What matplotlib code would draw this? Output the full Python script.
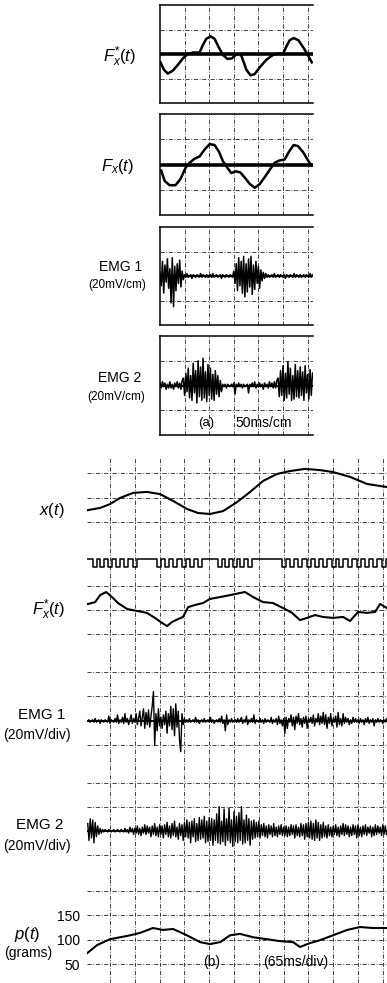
import numpy as np
import matplotlib.pyplot as plt

plt.rcParams['font.family'] = ['Liberation Sans', 'DejaVu Sans']
plt.rcParams['mathtext.fontset'] = 'custom'
plt.rcParams['mathtext.it'] = 'Liberation Sans:italic'
plt.rcParams['mathtext.rm'] = 'Liberation Sans'
plt.rcParams['lines.solid_joinstyle'] = 'round'

W, H = 387, 983

# ---------- (a) 50 ms/cm, time in divisions ----------
ta_fxs = [0.02, 0.16, 0.32, 0.52, 0.73, 0.93, 1.13, 1.34, 1.61, 1.74, 1.88, 2.06, 2.22,
          2.38, 2.56, 2.74, 2.92, 3.10, 3.28, 3.37, 3.51, 3.68, 3.85, 4.05, 4.32, 4.59,
          4.79, 5.0, 5.13, 5.27, 5.44, 5.63, 5.81, 5.99, 6.17]
fxs_a = [-0.34, -0.64, -0.80, -0.68, -0.44, -0.18, 0.0, 0.06, 0.06, 0.36, 0.62, 0.72, 0.62,
         0.29, -0.04, -0.2, -0.18, -0.02, 0.0, -0.24, -0.64, -0.87, -0.82, -0.55, -0.24, -0.04,
         0.02, 0.0, 0.29, 0.56, 0.65, 0.56, 0.29, 0.0, -0.34]

ta_fx = [0.05, 0.19, 0.39, 0.63, 0.83, 1.04, 1.20, 1.41, 1.61, 1.81, 2.02, 2.22, 2.40,
         2.56, 2.74, 2.90, 3.07, 3.26, 3.44, 3.64, 3.85, 4.05, 4.25, 4.46, 4.66, 4.86,
         5.07, 5.24, 5.43, 5.61, 5.81, 6.02, 6.15]
fx_a = [-0.24, -0.65, -0.82, -0.82, -0.58, -0.13, 0.07, 0.23, 0.32, 0.59, 0.81, 0.77, 0.5,
        0.13, -0.13, -0.34, -0.27, -0.31, -0.51, -0.76, -0.92, -0.78, -0.51, -0.21, 0.07, 0.16,
        0.2, 0.5, 0.77, 0.73, 0.5, 0.16, -0.04]

emg_dt = 0.05   # sampling step of the EMG readings, in divisions
emg1_a = [3, -8, 12, -14, 9, -5, 14, -10, 6, -22, 15, -25, 8, -12, 10, -6, 13, -9, 4, -3,
          1, -1, 2, -1, 0, 1, -2, 1, 0, -1, 1, 0, -1, 2, -1, 1, 0, -1, 1, -1,
          0, 1, -1, 2, -1, 0, 1, -1, 0, 1, -2, 1, 0, -1, 1, 0, -1, 1, 0, -1,
          4, -6, 10, -12, 15, -8, 12, -14, 16, -17, 10, -13, 14, -9, 16, -15, 9, -11, 12, -6,
          8, -10, 5, -4, 3, -2, 2, -1,
          1, -1, 0, 1, -1, 2, -1, 0, 1, -1, 1, 0, -1, 1, -2, 1, 0, -1, 1, 0,
          -1, 2, -1, 1, 0, -1, 1, -1, 0, 1, -1, 1, 0, -1, 2, -1, 1]
emg2_a = [2, -2, 3, -1, 2, -3, 1, -2, 3, -2, 1, -3, 2, -1, 3, -2, 2, -3, 4,
          6, -8, 10, -5, 14, -10, 8, -12, 18, -6, 12, -14, 20, -9, 15, -12, 22, -10, 11, -13,
          17, -8, 14, -11, 9, -12, 12, -7, 8, -9, 4, -5,
          1, -1, 1, -2, 1, 0, -1, 1, -1, 2, -7, 1, -1, 2, -1, 1, -2, 1, -1, 0,
          1, -6, 1, -1, 2, -1, 3, -2, 1, -1, 2, -1, 1, -3, 2, -1, 1, -2, 3, -1,
          2, -2, 3, -2, 4,
          6, -9, 12, -8, 16, -12, 10, -10, 19, -7, 14, -12, 8, -11, 17, -9, 12, -10, 15, -8,
          11, -12, 16, -6, 9, -11, 13, -8, 10]

# ---------- (b) 65 ms/div, time in divisions ----------
tb_x = [-0.89, -0.40, 0.0, 0.40, 0.93, 1.49, 2.02, 2.54, 3.10, 3.55, 4.03, 4.56, 5.12,
        5.65, 6.17, 6.73, 7.26, 7.86, 8.47, 8.99, 9.68, 10.36, 11.17]
x_b = [-0.52, -0.43, -0.27, -0.02, 0.19, 0.23, 0.14, -0.14, -0.47, -0.64, -0.68, -0.56, -0.19,
       0.23, 0.68, 0.97, 1.09, 1.18, 1.13, 1.05, 0.85, 0.56, 0.43]

tb_fxs = [-0.89, -0.60, -0.40, -0.16, 0.08, 0.32, 0.69, 1.09, 1.49, 1.81, 2.10, 2.30, 2.50,
          2.74, 2.94, 3.15, 3.43, 3.75, 4.03, 4.44, 4.84, 5.44, 5.77, 6.17, 6.57, 6.98, 7.34,
          7.66, 7.94, 8.27, 8.59, 8.99, 9.40, 9.68, 10.0, 10.36, 10.69, 10.89, 11.17]
fxs_b = [0.25, 0.33, 0.62, 0.75, 0.54, 0.29, 0.04, -0.04, -0.12, -0.33, -0.54, -0.67, -0.5,
         -0.38, -0.29, 0.12, 0.21, 0.29, 0.46, 0.54, 0.62, 0.75, 0.54, 0.33, 0.29, 0.08, -0.12,
         -0.42, -0.33, -0.21, -0.29, -0.33, -0.29, -0.46, -0.08, -0.12, -0.08, 0.25, 0.08]

pulse_t = [-0.69, -0.40, -0.08, 0.24, 0.56, 0.93, 1.90, 2.22, 2.54, 2.90, 3.23, 3.55,
           4.35, 4.64, 4.96, 5.24, 5.56, 6.94, 7.26, 7.58, 7.94, 8.27, 8.59, 8.95, 9.23,
           9.60, 9.96, 10.28, 10.60, 10.97]
pulse_w = 0.16

emg_b_t0 = -0.9
emg1_b = [0, 1, -1, 0, 1, -1, 2, -1, 0, 1, -2, 1, 0, -1, 1, 0, -1, 4, -2, 1,
          0, -1, 2, -1, 5, -2, 1, -1, 3, -2, 6, -1, 2, -3, 1, 5, -2, 2, -1, 6,
          -3, 2, 8, -4, 3, 10, -6, 7, -3, 9, -5, 4, 12, 24, -20, 6, -8, 10, -4, 3,
          -6, 5, -3, 8, -10, 6, -4, 12, -7, 10, -12, 14, -5, 8, -15, -25, 6, -3, 2, -1,
          1, -1, 2, -1, 0, 1, -1, 3, -1, 1, -2, 0, 1, -1, 2, -1, 0, 1, -1, 3,
          -1, 1, -2, 0, 1, -1, 2, -1, 4, -2, 1, -8, 5, -3, 1, -1, 2, -1, 0, 1,
          -1, 2, -1, 1, 3, -2, 1, -1, 4, -3, 1, -1, 2, -1, 5, -2, 1, 0, -1, 2,
          -1, 1, -2, 2, -1, 1, 0, -1, 3, -2, 1, -1, 2, -3, 4, -2, 1, -4, 2, -10,
          3, -6, 2, -1, 5, -4, 3, -7, 4, -2, 6, -3, 2, -5, 3, -2, 4, -6, 2, -1,
          3, -2, 5, -4, 2, -1, 6, -3, 4, -2, 7, -3, 5, -6, 3, -2, 6, -4, 2, -1,
          4, -5, 7, -3, 2, -4, 6, -2, 3, -1, 2, -3, 1, -2, 3, -1, 2, -1, 1, -2,
          2, -1, 1, -3, 2, -1, 3, -2, 1, -1, 2, -4, 1, -1, 2, -1, 1, 0, -2, 1, -1, 2]
emg2_b = [6, -8, 10, -6, 9, -10, 7, -5, 4, -3, 2, -2, 1, -1, 1, 0, -1, 1, 0, -1,
          0, 1, -1, 0, 1, 0, -1, 1, 0, -1, 2, -1, 1, -2, 3, -1, 2, -3, 2, -2,
          4, -3, 2, -4, 3, -2, 5, -3, 4, -2, 3, -5, 4, -3, 6, -4, 3, -5, 5, -3,
          4, -6, 5, -3, 7, -5, 4, -6, 6, -4, 8, -5, 3, -7, 6, -4, 5, -8, 7, -5,
          9, -6, 7, -10, 8, -5, 10, -9, 6, -8, 11, -7, 9, -6, 12, -10, 8, -9, 11, -8,
          10, -12, 9, -8, 14, -10, 20, -11, 8, -9, 18, -12, 10, -8, 19, -10, 9, -13, 16, -9,
          12, -10, 15, -8, 20, -11, 9, -10, 13, -8, 10, -12, 8, -7, 9, -6, 7, -5, 8, -6,
          5, -4, 6, -5, 4, -6, 5, -3, 4, -5, 6, -4, 3, -5, 4, -3, 5, -4, 3, -4,
          4, -5, 3, -4, 5, -3, 4, -6, 5, -4, 3, -5, 6, -4, 5, -7, 6, -5, 7, -6,
          8, -7, 6, -8, 9, -6, 7, -8, 5, -6, 7, -5, 4, -6, 5, -4, 3, -5, 4, -3,
          5, -4, 3, -5, 4, -3, 6, -4, 5, -3, 4, -5, 3, -4, 5, -3, 4, -6, 5, -4,
          3, -5, 4, -3, 5, -4, 3, -2, 4, -5, 3, -4, 5, -3, 4, -2, 3, -4, 5, -3, 4, -3]

tb_p = [-0.93, -0.52, 0.0, 0.81, 1.21, 1.73, 2.14, 2.54, 3.10, 3.63, 4.03, 4.44, 4.84,
        5.24, 5.77, 6.33, 6.85, 7.38, 7.66, 8.06, 8.47, 8.99, 9.56, 10.08, 10.60, 11.01, 11.17]
p_b = [72, 89, 101, 109, 114, 124, 120, 122, 109, 95, 91, 95, 109,
       112, 105, 101, 97, 95, 85, 93, 99, 109, 120, 126, 124, 124, 124]
p_ticks = [50, 100, 150]

GRID = dict(color='0.15', lw=0.6, ls=(0, (5, 2, 1, 2)))

fig = plt.figure(figsize=(W / 100, H / 100), dpi=100)


def px_axes(x0, y0, x1, y1):
    ax = fig.add_axes([x0 / W, 1 - y1 / H, (x1 - x0) / W, (y1 - y0) / H])
    ax.set_xticks([])
    ax.set_yticks([])
    for s in ax.spines.values():
        s.set_visible(False)
    return ax


def label(x, y, s, size=10, **kw):
    fig.text(x / W, 1 - y / H, s, ha='center', va='center', fontsize=size, **kw)


def panel_a(y0, y1, ylim):
    ax = px_axes(160, y0, 312.5, y1)
    ax.set_xlim(0, 6.2)
    ax.set_ylim(*ylim)
    for k in range(1, 7):
        ax.axvline(k, **GRID)
    step = (ylim[1] - ylim[0]) / 4
    for k in range(1, 4):
        ax.axhline(ylim[0] + k * step, **GRID)
    for s in ['left', 'top', 'bottom']:
        ax.spines[s].set_visible(True)
        ax.spines[s].set_linewidth(1.1)
    return ax


def strip_b(y0, y1, ylim, hlines, vtop=1.0):
    ax = px_axes(87, y0, 387, y1)
    ax.set_xlim(-0.93, 11.17)
    ax.set_ylim(*ylim)
    for k in range(0, 12):
        ax.axvline(k, ymax=vtop, **GRID)
    for h in hlines:
        ax.axhline(h, **GRID)
    return ax


# ---- part (a)
ax = panel_a(5, 103, (-2, 2))
ax.axhline(0, color='black', lw=2.6)
ax.plot(ta_fxs, fxs_a, color='black', lw=1.8)
label(120, 57, r'$F_x^{*}(t)$', 12)

ax = panel_a(114, 215, (-2, 2))
ax.axhline(0, color='black', lw=2.6)
ax.plot(ta_fx, fx_a, color='black', lw=1.8)
label(118, 166, r'$F_x(t)$', 12)

ax = panel_a(227, 325, (-40, 40))
ax.plot(np.arange(len(emg1_a)) * emg_dt, emg1_a, color='black', lw=1.1)
ax.axhline(0, color='black', lw=1.6)
label(121, 267, 'EMG 1', 10)
label(117, 285, '(20mV/cm)', 8.5)

ax = panel_a(336, 435, (-40, 40))
ax.plot(np.arange(len(emg2_a)) * emg_dt, emg2_a, color='black', lw=1.1)
ax.axhline(0, color='black', lw=1.4)
label(120, 378, 'EMG 2', 10)
label(116, 397, '(20mV/cm)', 8.5)
label(206, 423, '(a)', 9.5)
label(264, 423, '50ms/cm', 10)

# ---- part (b)
ax = strip_b(449, 546, (-2, 2), [-2, -1, 0, 1], vtop=0.91)
ax.plot(tb_x, x_b, color='black', lw=1.5)
label(52, 510, r'$x(t)$', 12)

ax = strip_b(546, 586, (0, 1), [])
sq_x, sq_y = [-0.93], [0.675]
for t in pulse_t:
    sq_x += [t, t, t + pulse_w, t + pulse_w]
    sq_y += [0.675, 0.475, 0.475, 0.675]
sq_x.append(11.17)
sq_y.append(0.675)
ax.plot(sq_x, sq_y, color='black', lw=1.1)

ax = strip_b(586, 658, (-2, 1), [-2, -1, 0, 1])
ax.plot(tb_fxs, fxs_b, color='black', lw=1.5)
label(49, 610, r'$F_x^{*}(t)$', 12)

ax = strip_b(658, 770, (-40, 51.4), [-40, -20, 0, 20, 40])
ax.plot(emg_b_t0 + np.arange(len(emg1_b)) * emg_dt, emg1_b, color='black', lw=1.0)
ax.axhline(0, color='black', lw=1.3)
label(42, 715, 'EMG 1', 11)
label(37, 735, '(20mV/div)', 10)

ax = strip_b(770, 879, (-40, 50.4), [-40, -20, 20, 40])
ax.plot(emg_b_t0 + np.arange(len(emg2_b)) * emg_dt, emg2_b, color='black', lw=1.0)
ax.axhline(0, color='black', lw=1.3)
label(40, 825, 'EMG 2', 11)
label(37, 846, '(20mV/div)', 10)

ax = strip_b(879, 983, (11, 224.7), [50, 100, 150, 200])
ax.plot(tb_p, p_b, color='black', lw=1.5)
ax.set_yticks(p_ticks)
ax.set_yticklabels([str(v) for v in p_ticks], fontsize=10)
ax.tick_params(axis='y', length=0, pad=5)
label(27, 935, r'$p(t)$', 12)
label(28, 953, '(grams)', 10)
label(212, 962, '(b)', 10)
label(296, 962, '(65ms/div)', 10)

fig.savefig('out.png', dpi=100)
